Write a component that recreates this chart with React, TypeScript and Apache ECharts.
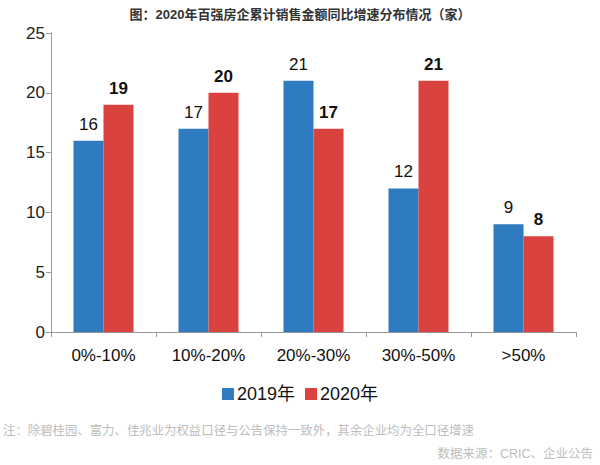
import React, { useEffect, useRef } from "react";
import * as echarts from "echarts";

const categories = ["0%-10%", "10%-20%", "20%-30%", "30%-50%", ">50%"];
const values2019 = [16, 17, 21, 12, 9];
const values2020 = [19, 20, 17, 21, 8];
const seriesNames = ["2019年", "2020年"];
const yTicks = { min: 0, max: 25, interval: 5 };
const titleText = "图：2020年百强房企累计销售金额同比增速分布情况（家）";
const noteText = "注：除碧桂园、富力、佳兆业为权益口径与公告保持一致外，其余企业均为全口径增速";
const sourceText = "数据来源：CRIC、企业公告";

const FONT = "Liberation Sans, Arial, Noto Sans CJK SC, sans-serif";

export default function App() {
  const ref = useRef<HTMLDivElement>(null);
  useEffect(() => {
    if (!ref.current) return;
    const chart = echarts.init(ref.current, null, { renderer: "svg" });
    chart.setOption({
      animation: false,
      backgroundColor: "#ffffff",
      textStyle: { fontFamily: FONT },
      title: {
        text: titleText,
        left: "center",
        top: 3,
        textStyle: { fontSize: 13, fontWeight: "bold", color: "#333", fontFamily: FONT },
      },
      legend: {
        data: seriesNames,
        top: 380,
        left: "center",
        itemWidth: 12,
        itemHeight: 12,
        itemGap: 10,
        icon: "rect",
        textStyle: { fontSize: 18, color: "#111", padding: [0, 0, 0, -2], fontFamily: FONT },
      },
      grid: { left: 51, right: 24, top: 33, bottom: 133, containLabel: false },
      xAxis: {
        type: "category",
        data: categories,
        axisLine: { lineStyle: { color: "#999", width: 1 } },
        axisTick: { show: true, length: 5, lineStyle: { color: "#999" } },
        axisLabel: { fontSize: 17, color: "#111", margin: 15 },
      },
      yAxis: {
        type: "value",
        min: yTicks.min,
        max: yTicks.max,
        interval: yTicks.interval,
        splitLine: { show: false },
        axisLine: { show: true, lineStyle: { color: "#999", width: 1 } },
        axisTick: { show: true, length: 5, lineStyle: { color: "#999" } },
        axisLabel: { fontSize: 17, color: "#222", margin: 6 },
      },
      series: [
        {
          name: seriesNames[0],
          type: "bar",
          data: values2019,
          barWidth: 30,
          barGap: "0%",
          itemStyle: { color: "#2e7bbf" },
          label: { show: true, position: "top", distance: 8, fontSize: 17, color: "#111" },
        },
        {
          name: seriesNames[1],
          type: "bar",
          data: values2020,
          barWidth: 30,
          barGap: "0%",
          itemStyle: { color: "#d9423f" },
          label: { show: true, position: "top", distance: 8, fontSize: 17, fontWeight: "bold", color: "#111" },
        },
      ],
      graphic: [
        {
          type: "text",
          left: 3,
          top: 425,
          style: { text: noteText, fontSize: 12.4, fill: "#bdbdbd", fontFamily: FONT },
        },
        {
          type: "text",
          right: 7,
          top: 448,
          style: { text: sourceText, fontSize: 12.5, fill: "#bdbdbd", fontFamily: FONT },
        },
      ],
    });
    return () => chart.dispose();
  }, []);
  return <div ref={ref} style={{ width: 600, height: 465, position: "absolute", left: 0, top: 0 }} />;
}
